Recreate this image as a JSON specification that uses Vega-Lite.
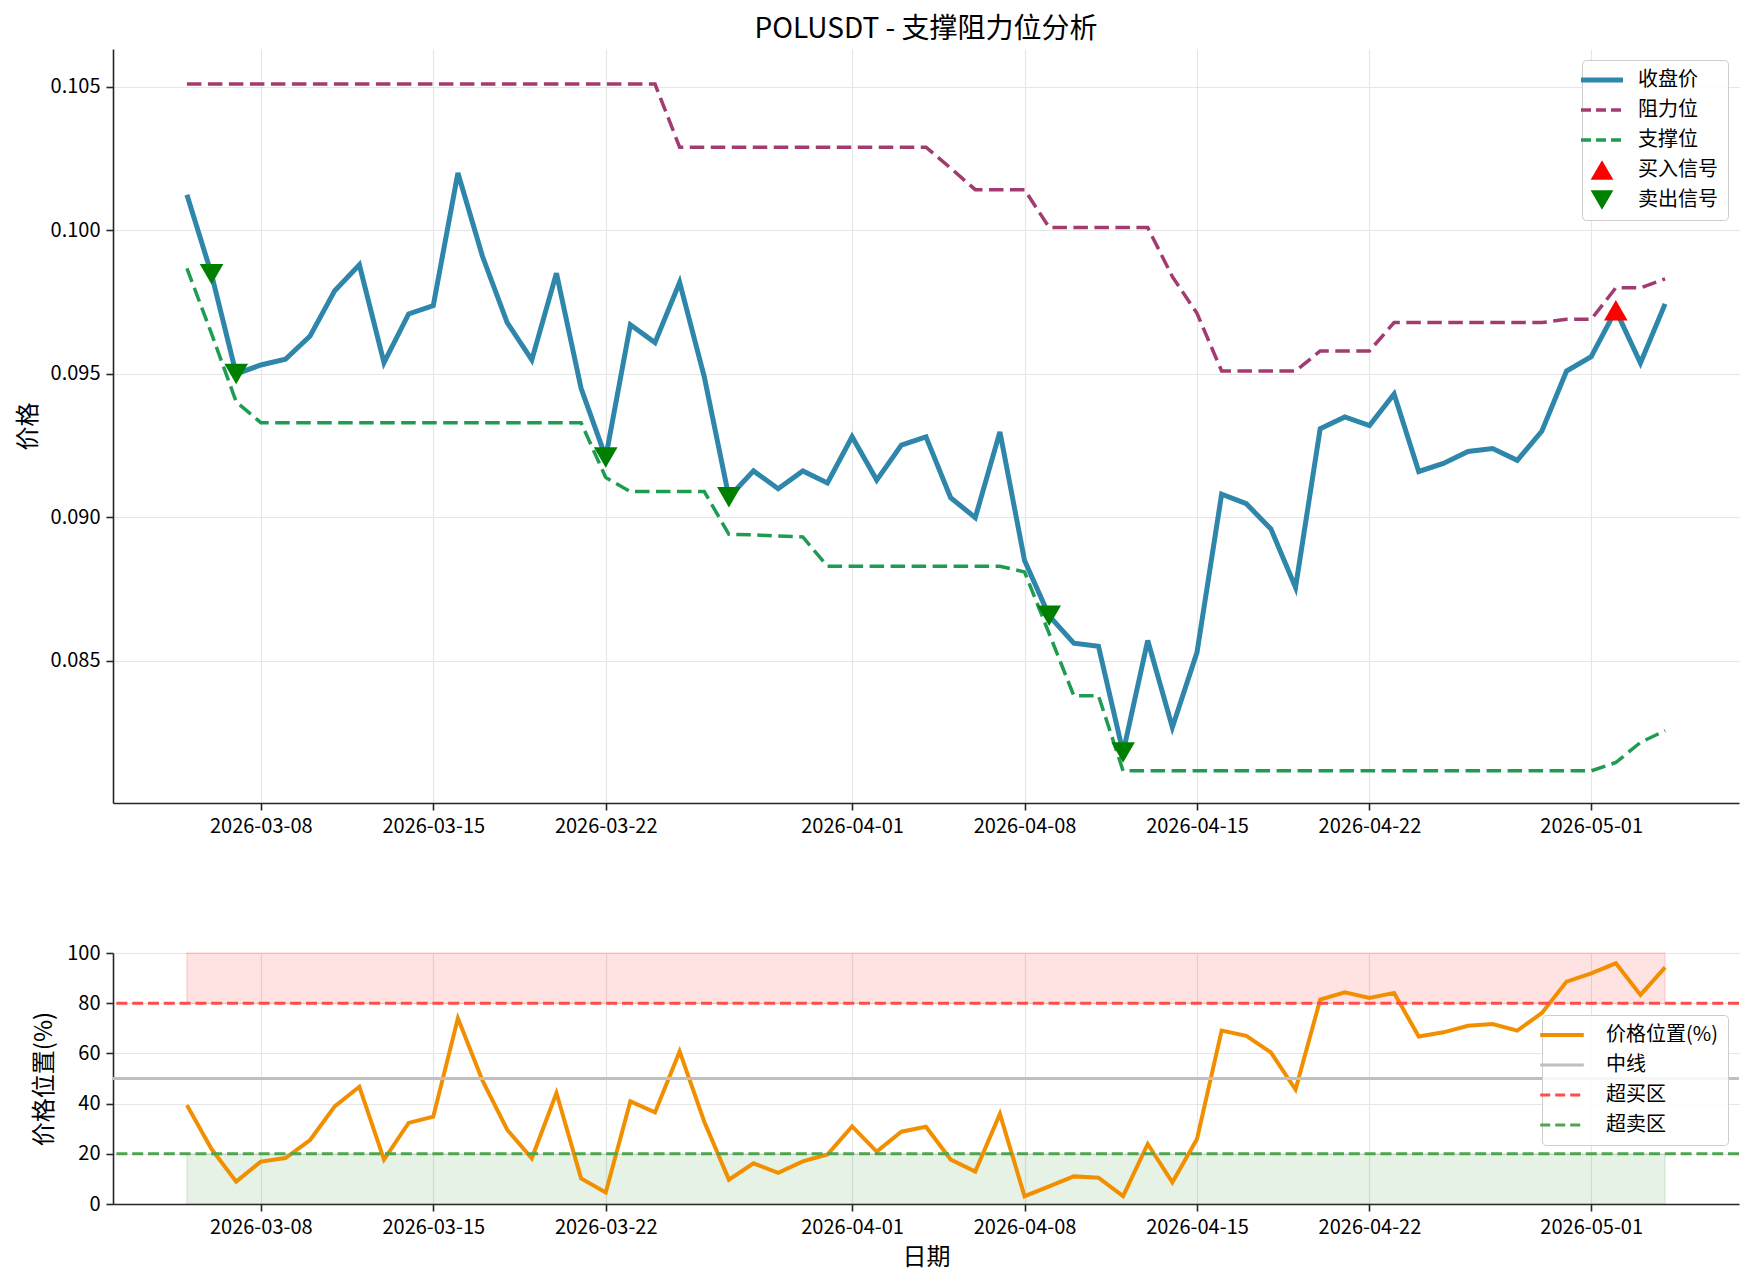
{
  "$schema": "https://vega.github.io/schema/vega-lite/v6.json",
  "background": "white",
  "padding": {"left": 16, "top": 16, "right": 10, "bottom": 5},
  "bounds": "flush",
  "spacing": 150,
  "config": {
    "font": "Noto Sans CJK SC",
    "view": {"stroke": null},
    "axis": {
      "labelFont": "Noto Sans CJK SC", "labelFontSize": 20, "labelColor": "#000000",
      "titleFont": "Noto Sans CJK SC", "titleFontSize": 24, "titleFontWeight": "normal", "titleColor": "#000000",
      "domainColor": "#262626", "domainWidth": 1.6, "tickColor": "#262626", "tickWidth": 1.6, "tickSize": 7,
      "labelPadding": 6, "gridColor": "#e6e6e6", "gridWidth": 1.2, "titlePadding": 10
    },
    "axisX": {"labelAngle": 0, "labelFlush": false, "labelOverlap": false},
    "axisY": {"labelOverlap": false},
    "title": {"font": "Noto Sans CJK SC", "fontSize": 28, "fontWeight": "normal", "color": "#000000", "offset": 5},
    "legend": {
      "labelFont": "Noto Sans CJK SC", "labelFontSize": 20, "labelColor": "#000000",
      "padding": 10, "strokeColor": "#cccccc", "fillColor": "rgba(255,255,255,0.85)", "cornerRadius": 4,
      "rowPadding": 10, "labelOffset": 26, "symbolSize": 1764
    }
  },
  "datasets": {
    "main": [
      {"date": "2026-03-05", "close": 0.10124, "resistance": 0.1051, "support": 0.09868, "position": 39.4},
      {"date": "2026-03-06", "close": 0.09847, "resistance": 0.1051, "support": 0.0964, "position": 21.9},
      {"date": "2026-03-07", "close": 0.0950, "resistance": 0.1051, "support": 0.09403, "position": 8.9},
      {"date": "2026-03-08", "close": 0.09531, "resistance": 0.1051, "support": 0.0933, "position": 16.9},
      {"date": "2026-03-09", "close": 0.09551, "resistance": 0.1051, "support": 0.0933, "position": 18.3},
      {"date": "2026-03-10", "close": 0.09632, "resistance": 0.1051, "support": 0.0933, "position": 25.5},
      {"date": "2026-03-11", "close": 0.0979, "resistance": 0.1051, "support": 0.0933, "position": 38.9},
      {"date": "2026-03-12", "close": 0.0988, "resistance": 0.1051, "support": 0.0933, "position": 46.7},
      {"date": "2026-03-13", "close": 0.09539, "resistance": 0.1051, "support": 0.0933, "position": 17.7},
      {"date": "2026-03-14", "close": 0.09709, "resistance": 0.1051, "support": 0.0933, "position": 32.3},
      {"date": "2026-03-15", "close": 0.09738, "resistance": 0.1051, "support": 0.0933, "position": 34.8},
      {"date": "2026-03-16", "close": 0.102, "resistance": 0.1051, "support": 0.0933, "position": 74.0},
      {"date": "2026-03-17", "close": 0.09909, "resistance": 0.1051, "support": 0.0933, "position": 49.1},
      {"date": "2026-03-18", "close": 0.09679, "resistance": 0.1051, "support": 0.0933, "position": 29.6},
      {"date": "2026-03-19", "close": 0.09549, "resistance": 0.1051, "support": 0.0933, "position": 18.2},
      {"date": "2026-03-20", "close": 0.09851, "resistance": 0.1051, "support": 0.0933, "position": 44.2},
      {"date": "2026-03-21", "close": 0.0945, "resistance": 0.1051, "support": 0.0933, "position": 10.2},
      {"date": "2026-03-22", "close": 0.09209, "resistance": 0.1051, "support": 0.09139, "position": 4.6},
      {"date": "2026-03-23", "close": 0.09671, "resistance": 0.1051, "support": 0.0909, "position": 40.9},
      {"date": "2026-03-24", "close": 0.09609, "resistance": 0.1051, "support": 0.0909, "position": 36.5},
      {"date": "2026-03-25", "close": 0.09819, "resistance": 0.1029, "support": 0.0909, "position": 60.8},
      {"date": "2026-03-26", "close": 0.0949, "resistance": 0.1029, "support": 0.0909, "position": 32.8},
      {"date": "2026-03-27", "close": 0.0907, "resistance": 0.1029, "support": 0.08941, "position": 9.7},
      {"date": "2026-03-28", "close": 0.09162, "resistance": 0.1029, "support": 0.08939, "position": 16.2},
      {"date": "2026-03-29", "close": 0.091, "resistance": 0.1029, "support": 0.08935, "position": 12.4},
      {"date": "2026-03-30", "close": 0.09162, "resistance": 0.1029, "support": 0.08932, "position": 17.0},
      {"date": "2026-03-31", "close": 0.0912, "resistance": 0.1029, "support": 0.0883, "position": 19.7},
      {"date": "2026-04-01", "close": 0.09281, "resistance": 0.1029, "support": 0.0883, "position": 30.9},
      {"date": "2026-04-02", "close": 0.0913, "resistance": 0.1029, "support": 0.0883, "position": 20.9},
      {"date": "2026-04-03", "close": 0.09252, "resistance": 0.1029, "support": 0.0883, "position": 28.8},
      {"date": "2026-04-04", "close": 0.09281, "resistance": 0.1029, "support": 0.0883, "position": 30.8},
      {"date": "2026-04-05", "close": 0.09069, "resistance": 0.10217, "support": 0.0883, "position": 17.7},
      {"date": "2026-04-06", "close": 0.08999, "resistance": 0.10142, "support": 0.0883, "position": 12.9},
      {"date": "2026-04-07", "close": 0.09298, "resistance": 0.10142, "support": 0.0883, "position": 35.9},
      {"date": "2026-04-08", "close": 0.0885, "resistance": 0.10142, "support": 0.0881, "position": 3.1},
      {"date": "2026-04-09", "close": 0.08657, "resistance": 0.1001, "support": 0.08595, "position": 7.0},
      {"date": "2026-04-10", "close": 0.08562, "resistance": 0.1001, "support": 0.08379, "position": 11.0},
      {"date": "2026-04-11", "close": 0.08551, "resistance": 0.1001, "support": 0.08379, "position": 10.5},
      {"date": "2026-04-12", "close": 0.08181, "resistance": 0.1001, "support": 0.08117, "position": 3.1},
      {"date": "2026-04-13", "close": 0.08571, "resistance": 0.1001, "support": 0.08117, "position": 23.9},
      {"date": "2026-04-14", "close": 0.08269, "resistance": 0.09839, "support": 0.08117, "position": 8.6},
      {"date": "2026-04-15", "close": 0.0853, "resistance": 0.09711, "support": 0.08117, "position": 25.9},
      {"date": "2026-04-16", "close": 0.09081, "resistance": 0.0951, "support": 0.08117, "position": 69.1},
      {"date": "2026-04-17", "close": 0.09048, "resistance": 0.0951, "support": 0.08117, "position": 67.0},
      {"date": "2026-04-18", "close": 0.0896, "resistance": 0.0951, "support": 0.08117, "position": 60.4},
      {"date": "2026-04-19", "close": 0.08756, "resistance": 0.0951, "support": 0.08117, "position": 45.6},
      {"date": "2026-04-20", "close": 0.09309, "resistance": 0.0958, "support": 0.08117, "position": 81.4},
      {"date": "2026-04-21", "close": 0.0935, "resistance": 0.0958, "support": 0.08117, "position": 84.3},
      {"date": "2026-04-22", "close": 0.0932, "resistance": 0.0958, "support": 0.08117, "position": 82.1},
      {"date": "2026-04-23", "close": 0.0943, "resistance": 0.09679, "support": 0.08117, "position": 84.1},
      {"date": "2026-04-24", "close": 0.0916, "resistance": 0.09679, "support": 0.08117, "position": 66.7},
      {"date": "2026-04-25", "close": 0.09188, "resistance": 0.09679, "support": 0.08117, "position": 68.4},
      {"date": "2026-04-26", "close": 0.0923, "resistance": 0.09679, "support": 0.08117, "position": 71.0},
      {"date": "2026-04-27", "close": 0.0924, "resistance": 0.09679, "support": 0.08117, "position": 71.7},
      {"date": "2026-04-28", "close": 0.09199, "resistance": 0.09679, "support": 0.08117, "position": 69.1},
      {"date": "2026-04-29", "close": 0.09301, "resistance": 0.09679, "support": 0.08117, "position": 76.1},
      {"date": "2026-04-30", "close": 0.0951, "resistance": 0.0969, "support": 0.08117, "position": 88.6},
      {"date": "2026-05-01", "close": 0.0956, "resistance": 0.0969, "support": 0.08117, "position": 91.9},
      {"date": "2026-05-02", "close": 0.09722, "resistance": 0.098, "support": 0.08146, "position": 95.9},
      {"date": "2026-05-03", "close": 0.09538, "resistance": 0.098, "support": 0.08216, "position": 83.3},
      {"date": "2026-05-04", "close": 0.09744, "resistance": 0.09831, "support": 0.08257, "position": 94.3}
    ],
    "signals": [
      {"date": "2026-03-06", "price": 0.09847, "type": "卖出信号"},
      {"date": "2026-03-07", "price": 0.0950, "type": "卖出信号"},
      {"date": "2026-03-22", "price": 0.09209, "type": "卖出信号"},
      {"date": "2026-03-27", "price": 0.0907, "type": "卖出信号"},
      {"date": "2026-04-09", "price": 0.08657, "type": "卖出信号"},
      {"date": "2026-04-12", "price": 0.08181, "type": "卖出信号"},
      {"date": "2026-05-02", "price": 0.09722, "type": "买入信号"}
    ]
  },
  "resolve": {"scale": {"color": "independent"}, "legend": {"color": "independent"}},
  "vconcat": [
    {
      "width": 1626,
      "height": 754,
      "title": {"text": "POLUSDT - 支撑阻力位分析", "anchor": "middle"},
      "encoding": {
        "x": {
          "field": "date", "type": "temporal",
          "scale": {"type": "utc", "domain": [{"year": 2026, "month": 3, "date": 2, "utc": true}, {"year": 2026, "month": 5, "date": 7, "utc": true}]},
          "axis": {
            "title": null, "format": "%Y-%m-%d", "grid": true,
            "values": [
              {"year": 2026, "month": 3, "date": 8, "utc": true},
              {"year": 2026, "month": 3, "date": 15, "utc": true},
              {"year": 2026, "month": 3, "date": 22, "utc": true},
              {"year": 2026, "month": 4, "date": 1, "utc": true},
              {"year": 2026, "month": 4, "date": 8, "utc": true},
              {"year": 2026, "month": 4, "date": 15, "utc": true},
              {"year": 2026, "month": 4, "date": 22, "utc": true},
              {"year": 2026, "month": 5, "date": 1, "utc": true}
            ]
          }
        }
      },
      "layer": [
        {
          "data": {"name": "main"},
          "mark": {"type": "line", "strokeWidth": 5},
          "encoding": {
            "y": {"field": "close", "type": "quantitative", "title": "价格",
                  "scale": {"domain": [0.08005, 0.10632], "nice": false, "zero": false},
                  "axis": {"values": [0.085, 0.09, 0.095, 0.1, 0.105], "format": ".3f", "grid": true}},
            "color": {
              "datum": "收盘价",
              "title": null,
              "scale": {"domain": ["收盘价", "阻力位", "支撑位", "买入信号", "卖出信号"],
                        "range": ["#2E86AB", "#A23B72", "#1f9b52", "#ff0000", "#008000"]},
              "legend": {
                "title": null, "orient": "top-right", "offset": 11,
                "encode": {
                  "symbols": {
                    "update": {
                      "shape": {"signal": "datum.value === '买入信号' ? 'triangle-up' : datum.value === '卖出信号' ? 'triangle-down' : 'stroke'"},
                      "size": {"signal": "(datum.value === '买入信号' || datum.value === '卖出信号') ? 520 : 1764"},
                      "fill": {"signal": "datum.value === '买入信号' ? '#ff0000' : datum.value === '卖出信号' ? '#008000' : 'transparent'"},
                      "stroke": {"signal": "datum.value === '收盘价' ? '#2E86AB' : datum.value === '阻力位' ? '#A23B72' : datum.value === '支撑位' ? '#1f9b52' : 'transparent'"},
                      "strokeWidth": {"signal": "datum.value === '收盘价' ? 5 : (datum.value === '买入信号' || datum.value === '卖出信号') ? 0 : 3.5"},
                      "strokeDash": {"signal": "(datum.value === '阻力位' || datum.value === '支撑位') ? [10, 5] : [1, 0]"},
                      "opacity": {"value": 1}
                    }
                  }
                }
              }
            }
          }
        },
        {
          "data": {"name": "main"},
          "mark": {"type": "line", "strokeWidth": 3.5, "strokeDash": [14.5, 6.5]},
          "encoding": {
            "y": {"field": "resistance", "type": "quantitative", "title": "价格"},
            "color": {"datum": "阻力位", "title": null}
          }
        },
        {
          "data": {"name": "main"},
          "mark": {"type": "line", "strokeWidth": 3.5, "strokeDash": [14.5, 6.5]},
          "encoding": {
            "y": {"field": "support", "type": "quantitative", "title": "价格"},
            "color": {"datum": "支撑位", "title": null}
          }
        },
        {
          "data": {"name": "signals"},
          "mark": {"type": "point", "filled": true, "size": 560, "opacity": 1, "strokeWidth": 0},
          "encoding": {
            "y": {"field": "price", "type": "quantitative", "title": "价格"},
            "color": {"field": "type", "type": "nominal", "title": null},
            "shape": {"field": "type", "type": "nominal", "title": null,
                      "scale": {"domain": ["买入信号", "卖出信号"], "range": ["triangle-up", "triangle-down"]},
                      "legend": null}
          }
        }
      ]
    },
    {
      "width": 1626,
      "height": 251,
      "layer": [
        {
          "data": {"name": "main"},
          "mark": {"type": "area", "fill": "#ff0000", "fillOpacity": 0.11, "stroke": "#ff0000", "strokeOpacity": 0.12, "strokeWidth": 1.5},
          "encoding": {
            "x": {
              "field": "date", "type": "temporal",
              "scale": {"type": "utc", "domain": [{"year": 2026, "month": 3, "date": 2, "utc": true}, {"year": 2026, "month": 5, "date": 7, "utc": true}]},
              "axis": {
                "title": "日期", "format": "%Y-%m-%d", "grid": true, "titlePadding": 8,
                "values": [
                  {"year": 2026, "month": 3, "date": 8, "utc": true},
                  {"year": 2026, "month": 3, "date": 15, "utc": true},
                  {"year": 2026, "month": 3, "date": 22, "utc": true},
                  {"year": 2026, "month": 4, "date": 1, "utc": true},
                  {"year": 2026, "month": 4, "date": 8, "utc": true},
                  {"year": 2026, "month": 4, "date": 15, "utc": true},
                  {"year": 2026, "month": 4, "date": 22, "utc": true},
                  {"year": 2026, "month": 5, "date": 1, "utc": true}
                ]
              }
            },
            "y": {"datum": 80, "type": "quantitative", "title": "价格位置(%)",
                  "scale": {"domain": [0, 100], "nice": false, "zero": true},
                  "axis": {"values": [0, 20, 40, 60, 80, 100], "format": "d", "grid": true}},
            "y2": {"datum": 100}
          }
        },
        {
          "data": {"name": "main"},
          "mark": {"type": "area", "fill": "#008000", "fillOpacity": 0.1, "stroke": "#008000", "strokeOpacity": 0.1, "strokeWidth": 1.5},
          "encoding": {
            "x": {"field": "date", "type": "temporal", "title": "日期"},
            "y": {"datum": 0, "type": "quantitative", "title": "价格位置(%)"},
            "y2": {"datum": 20}
          }
        },
        {
          "data": {"name": "main"},
          "mark": {"type": "line", "strokeWidth": 4},
          "encoding": {
            "x": {"field": "date", "type": "temporal", "title": "日期"},
            "y": {"field": "position", "type": "quantitative", "title": "价格位置(%)"},
            "color": {
              "datum": "价格位置(%)",
              "title": null,
              "scale": {"domain": ["价格位置(%)", "中线", "超买区", "超卖区"],
                        "range": ["#F18F01", "#bfbfbf", "#ff4d4d", "#4da64d"]},
              "legend": {
                "title": null, "orient": "none", "legendX": 1429, "legendY": 62, "labelOffset": 34,
                "encode": {
                  "symbols": {
                    "update": {
                      "shape": {"value": "stroke"},
                      "size": {"value": 1900},
                      "fill": {"value": "transparent"},
                      "stroke": {"signal": "datum.value === '价格位置(%)' ? '#F18F01' : datum.value === '中线' ? '#bfbfbf' : datum.value === '超买区' ? '#ff4d4d' : '#4da64d'"},
                      "strokeWidth": {"signal": "datum.value === '价格位置(%)' ? 4 : 3"},
                      "strokeDash": {"signal": "(datum.value === '超买区' || datum.value === '超卖区') ? [10, 5] : [1, 0]"},
                      "opacity": {"value": 1}
                    }
                  }
                }
              }
            }
          }
        },
        {
          "data": {"values": [{}]},
          "mark": {"type": "rule", "strokeWidth": 3},
          "encoding": {
            "y": {"datum": 50, "type": "quantitative"},
            "color": {"datum": "中线", "title": null}
          }
        },
        {
          "data": {"values": [{}]},
          "mark": {"type": "rule", "strokeWidth": 3, "strokeDash": [11, 4.8]},
          "encoding": {
            "y": {"datum": 80, "type": "quantitative"},
            "color": {"datum": "超买区", "title": null}
          }
        },
        {
          "data": {"values": [{}]},
          "mark": {"type": "rule", "strokeWidth": 3, "strokeDash": [11, 4.8]},
          "encoding": {
            "y": {"datum": 20, "type": "quantitative"},
            "color": {"datum": "超卖区", "title": null}
          }
        }
      ]
    }
  ]
}
